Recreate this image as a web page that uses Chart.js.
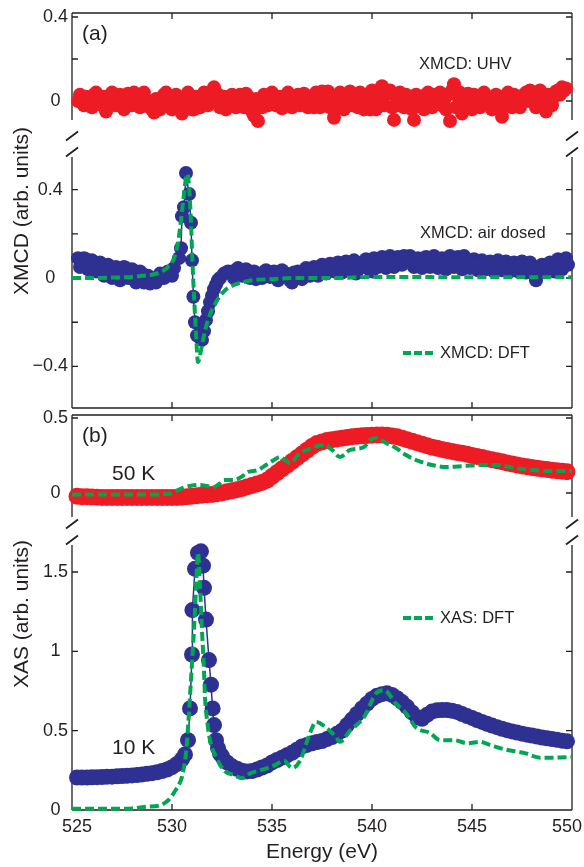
<!DOCTYPE html>
<html>
<head>
<meta charset="utf-8">
<script src="https://cdn.jsdelivr.net/npm/chart.js@4.4.0/dist/chart.umd.min.js"></script>
<style>
  html, body { margin: 0; padding: 0; background: #fff; }
  #wrap { position: relative; width: 584px; height: 867px; overflow: hidden; }
  #wrap canvas { position: absolute; left: 0; top: 0; }
</style>
</head>
<body>
<div id="wrap">
  <canvas id="aTop" width="584" height="867"></canvas>
  <canvas id="aBottom" width="584" height="867"></canvas>
  <canvas id="bTop" width="584" height="867"></canvas>
  <canvas id="bBottom" width="584" height="867"></canvas>
</div>
<script>
/* ====== DATA ====== */

const energyTicks = [525, 530, 535, 540, 545, 550];

// (a) XMCD in UHV (red dots), two interleaved scans
const uhvEnergy = [
  525.3, 525.5, 525.7, 525.9, 526.1, 526.3, 526.5, 526.7, 526.9, 527.1,
  527.3, 527.5, 527.7, 527.9, 528.1, 528.3, 528.5, 528.7, 528.9, 529.1,
  529.3, 529.5, 529.7, 529.9, 530.1, 530.3, 530.5, 530.7, 530.9, 531.1,
  531.3, 531.5, 531.7, 531.9, 532.1, 532.3, 532.5, 532.7, 532.9, 533.1,
  533.3, 533.5, 533.7, 533.9, 534.1, 534.3, 534.5, 534.7, 534.9, 535.1,
  535.3, 535.5, 535.7, 535.9, 536.1, 536.3, 536.5, 536.7, 536.9, 537.1,
  537.3, 537.5, 537.7, 537.9, 538.1, 538.3, 538.5, 538.7, 538.9, 539.1,
  539.3, 539.5, 539.7, 539.9, 540.1, 540.3, 540.5, 540.7, 540.9, 541.1,
  541.3, 541.5, 541.7, 541.9, 542.1, 542.3, 542.5, 542.7, 542.9, 543.1,
  543.3, 543.5, 543.7, 543.9, 544.1, 544.3, 544.5, 544.7, 544.9, 545.1,
  545.3, 545.5, 545.7, 545.9, 546.1, 546.3, 546.5, 546.7, 546.9, 547.1,
  547.3, 547.5, 547.7, 547.9, 548.1, 548.3, 548.5, 548.7, 548.9, 549.1,
  549.3, 549.5, 549.7
];
const uhvXmcd = [
  0.0, 0.01, 0.02, 0.0, 0.03, 0.01, -0.02, -0.05, 0.0, 0.03,
  0.0, -0.02, 0.01, 0.02, 0.04, 0.02, 0.0, -0.02, -0.03, -0.055,
  -0.02, 0.01, 0.04, 0.02, 0.0, -0.02, -0.06, -0.03, -0.01, -0.04,
  -0.01, 0.01, 0.0, 0.03, 0.065, 0.03, -0.02, -0.04, 0.0, 0.02,
  0.0, 0.02, 0.035, -0.02, -0.07, -0.095, -0.03, 0.01, 0.02, 0.0,
  -0.02, -0.035, -0.01, 0.02, 0.0, 0.03, 0.01, -0.01, 0.02, -0.03,
  0.01, 0.045, 0.02, -0.03, -0.08, -0.02, 0.02, 0.01, 0.045, 0.0,
  -0.03, 0.0, 0.03, -0.04, -0.14, 0.0, 0.07, 0.03, 0.05, -0.09,
  -0.02, 0.01, 0.03, 0.0, -0.09, -0.02, 0.02, 0.03, 0.0, 0.03,
  0.01, -0.02, -0.04, -0.095, 0.08, 0.02, -0.06, -0.02, 0.01, 0.03,
  0.0, 0.03, 0.0, -0.02, 0.02, -0.03, -0.075, -0.02, 0.01, 0.03,
  0.0, 0.02, 0.04, 0.05, 0.01, 0.03, -0.02, -0.05, 0.0, 0.02,
  0.05, 0.065, 0.06
];
const uhvEnergyB = [
  525.4, 525.6, 525.8, 526.0, 526.2, 526.4, 526.6, 526.8, 527.0, 527.2,
  527.4, 527.6, 527.8, 528.0, 528.2, 528.4, 528.6, 528.8, 529.0, 529.2,
  529.4, 529.6, 529.8, 530.0, 530.2, 530.4, 530.6, 530.8, 531.0, 531.2,
  531.4, 531.6, 531.8, 532.0, 532.2, 532.4, 532.6, 532.8, 533.0, 533.2,
  533.4, 533.6, 533.8, 534.0, 534.2, 534.4, 534.6, 534.8, 535.0, 535.2,
  535.4, 535.6, 535.8, 536.0, 536.2, 536.4, 536.6, 536.8, 537.0, 537.2,
  537.4, 537.6, 537.8, 538.0, 538.2, 538.4, 538.6, 538.8, 539.0, 539.2,
  539.4, 539.6, 539.8, 540.0, 540.2, 540.4, 540.6, 540.8, 541.0, 541.2,
  541.4, 541.6, 541.8, 542.0, 542.2, 542.4, 542.6, 542.8, 543.0, 543.2,
  543.4, 543.6, 543.8, 544.0, 544.2, 544.4, 544.6, 544.8, 545.0, 545.2,
  545.4, 545.6, 545.8, 546.0, 546.2, 546.4, 546.6, 546.8, 547.0, 547.2,
  547.4, 547.6, 547.8, 548.0, 548.2, 548.4, 548.6, 548.8, 549.0, 549.2,
  549.4, 549.6
];
const uhvXmcdB = [
  0.03, -0.02, 0.0, -0.03, 0.04, -0.01, 0.02, -0.03, 0.04, -0.02,
  0.03, -0.04, 0.035, -0.02, 0.01, -0.03, 0.04, 0.0, -0.04, 0.01,
  -0.04, 0.03, 0.0, -0.04, 0.03, 0.01, -0.02, 0.04, -0.04, 0.02,
  -0.03, 0.04, -0.02, 0.01, 0.04, -0.03, 0.02, -0.01, 0.03, -0.03,
  0.03, -0.03, 0.02, -0.05, 0.01, -0.03, 0.03, -0.02, 0.04, -0.02,
  0.02, -0.01, 0.04, -0.03, 0.02, -0.02, 0.035, -0.03, 0.01, 0.04,
  -0.03, 0.02, 0.045, 0.0, -0.03, 0.04, -0.04, 0.03, -0.02, 0.03,
  0.04, -0.04, 0.01, 0.05, -0.04, 0.03, -0.02, 0.04, -0.03, 0.02,
  0.04, -0.03, 0.02, -0.04, 0.03, 0.0, -0.04, 0.04, -0.03, 0.02,
  0.04, 0.0, 0.03, 0.05, -0.03, 0.04, 0.0, 0.035, -0.04, 0.02,
  -0.03, 0.04, 0.01, -0.04, 0.03, -0.02, 0.02, 0.04, -0.03, 0.01,
  -0.03, 0.03, 0.0, 0.04, -0.03, 0.05, -0.01, 0.03, -0.02, 0.045,
  0.03, 0.05
];

// (a) XMCD air dosed (blue dots joined by a thin line)
const airEnergy = [
  525.3, 525.5, 525.7, 525.9, 526.1, 526.3, 526.5, 526.7, 526.9, 527.1,
  527.3, 527.5, 527.7, 527.9, 528.1, 528.3, 528.5, 528.7, 528.9, 529.1,
  529.3, 529.5, 529.7, 529.9, 530.1,
  530.35, 530.45, 530.5, 530.6, 530.7, 530.85, 530.95, 531.0, 531.07, 531.15,
  531.25, 531.4, 531.5, 531.6, 531.7, 531.8, 531.9, 532.0, 532.1, 532.2,
  532.3, 532.4, 532.6, 532.8,
  533.0, 533.2, 533.4, 533.6, 533.8, 534.0, 534.2, 534.4, 534.6, 534.8,
  535.0, 535.2, 535.4, 535.6, 535.8, 536.0, 536.2, 536.4, 536.6, 536.8,
  537.0, 537.2, 537.4, 537.6, 537.8, 538.0, 538.2, 538.4, 538.6, 538.8,
  539.0, 539.2, 539.4, 539.6, 539.8, 540.0, 540.2, 540.4, 540.6, 540.8,
  541.0, 541.2, 541.4, 541.6, 541.8, 542.0, 542.2, 542.4, 542.6, 542.8,
  543.0, 543.2, 543.4, 543.6, 543.8, 544.0, 544.2, 544.4, 544.6, 544.8,
  545.0, 545.2, 545.4, 545.6, 545.8, 546.0, 546.2, 546.4, 546.6, 546.8,
  547.0, 547.2, 547.4, 547.6, 547.8, 548.0, 548.2, 548.4, 548.6, 548.8,
  549.0, 549.2, 549.4, 549.6, 549.8
];
const airXmcd = [
  0.09, 0.075, 0.085, 0.06, 0.07, 0.045, 0.06, 0.03, 0.05, 0.02,
  0.04, 0.01, 0.045, 0.015, 0.03, 0.0, 0.02, -0.01, -0.025, -0.015,
  -0.005, 0.005, 0.015, 0.025, 0.045,
  0.09, 0.135, 0.28, 0.32, 0.475, 0.38, 0.25, 0.08, -0.085, -0.2,
  -0.26, -0.27, -0.28, -0.24, -0.19, -0.15, -0.11, -0.08, -0.05, -0.03,
  -0.01, 0.0, 0.02, 0.03,
  0.03, 0.035, 0.03, 0.025, 0.02, 0.01, -0.005, 0.015, 0.025, 0.02,
  0.015, 0.01, 0.02, 0.005, 0.0, -0.02, 0.0, 0.02, 0.025, 0.03,
  0.035, 0.03, 0.04, 0.045, 0.05, 0.04, 0.035, 0.045, 0.055, 0.05,
  0.05, 0.02, 0.045, 0.06, 0.05, 0.03, 0.055, 0.07, 0.08, 0.07,
  0.065, 0.08, 0.09, 0.1, 0.085, 0.07, 0.065, 0.075, 0.09, 0.08,
  0.07, 0.075, 0.07, 0.065, 0.08, 0.07, 0.075, 0.085, 0.1, 0.08,
  0.065, 0.06, 0.065, 0.07, 0.055, 0.05, 0.06, 0.055, 0.05, 0.055,
  0.05, 0.045, 0.055, 0.05, 0.045, 0.03, -0.01, 0.025, 0.045, 0.04,
  0.05, 0.055, 0.07, 0.08, 0.06
];
// second air-dosed scan (dots only)
const airEnergyB = [
  525.4, 525.6, 525.8, 526.0, 526.2, 526.4, 526.6, 526.8, 527.0, 527.2,
  527.4, 527.6, 527.8, 528.0, 528.2, 528.4, 528.6, 528.8, 529.0, 529.2,
  529.4, 529.6, 529.8, 530.0,
  533.1, 533.3, 533.5, 533.7, 533.9, 534.1, 534.3, 534.5, 534.7, 534.9,
  535.1, 535.3, 535.5, 535.7, 535.9, 536.1, 536.3, 536.5, 536.7, 536.9,
  537.1, 537.3, 537.5, 537.7, 537.9, 538.1, 538.3, 538.5, 538.7, 538.9,
  539.1, 539.3, 539.5, 539.7, 539.9, 540.1, 540.3, 540.5, 540.7, 540.9,
  541.1, 541.3, 541.5, 541.7, 541.9, 542.1, 542.3, 542.5, 542.7, 542.9,
  543.1, 543.3, 543.5, 543.7, 543.9, 544.1, 544.3, 544.5, 544.7, 544.9,
  545.1, 545.3, 545.5, 545.7, 545.9, 546.1, 546.3, 546.5, 546.7, 546.9,
  547.1, 547.3, 547.5, 547.7, 547.9, 548.1, 548.3, 548.5, 548.7, 548.9,
  549.1, 549.3, 549.5, 549.7
];
const airXmcdB = [
  0.05, 0.09, 0.04, 0.08, 0.03, 0.07, 0.01, 0.06, 0.0, 0.05,
  -0.01, 0.05, 0.0, 0.04, -0.02, 0.03, -0.02, 0.01, 0.0, -0.02,
  0.02, 0.0, 0.03, 0.01,
  0.0, 0.045, 0.01, 0.04, 0.0, 0.03, 0.02, 0.0, 0.035, 0.005,
  0.03, -0.01, 0.035, 0.02, -0.01, 0.025, 0.03, -0.005, 0.045, 0.01,
  0.05, 0.01, 0.06, 0.02, 0.065, 0.03, 0.07, 0.025, 0.075, 0.035,
  0.08, 0.04, 0.07, 0.085, 0.035, 0.09, 0.05, 0.095, 0.045, 0.1,
  0.05, 0.095, 0.06, 0.085, 0.1, 0.05, 0.09, 0.045, 0.095, 0.05,
  0.1, 0.045, 0.09, 0.04, 0.1, 0.05, 0.095, 0.04, 0.07, 0.045,
  0.085, 0.035, 0.08, 0.04, 0.075, 0.03, 0.08, 0.035, 0.075, 0.03,
  0.07, 0.03, 0.075, 0.025, 0.07, 0.05, 0.02, 0.06, 0.03, 0.07,
  0.03, 0.085, 0.04, 0.09
];

// (a) XMCD from DFT (green dashed)
const xmcdDftEnergy = [525, 526, 527, 528, 528.5, 529, 529.5, 529.8, 530.1, 530.3,
  530.45, 530.6, 530.75, 530.85, 530.95, 531.02, 531.1, 531.2, 531.3, 531.4,
  531.55, 531.8, 532.2, 532.6, 533, 533.5, 534, 535, 536, 538,
  540, 542, 544, 546, 548, 550];
const xmcdDft = [0, 0, 0.002, 0.005, 0.01, 0.015, 0.03, 0.05, 0.09, 0.16,
  0.26, 0.38, 0.47, 0.42, 0.25, 0.08, -0.08, -0.25, -0.38, -0.35,
  -0.28, -0.19, -0.11, -0.06, -0.035, -0.02, -0.01, -0.005, 0, 0,
  0.005, 0.005, 0.003, 0.003, 0.003, 0.003];

// (b) XAS at 50 K (red)
const xas50Energy = [
  525.25, 525.5, 525.75, 526, 526.25, 526.5, 526.75, 527, 527.25, 527.5,
  527.75, 528, 528.25, 528.5, 528.75, 529, 529.25, 529.5, 529.75, 530,
  530.25, 530.5, 530.75, 531, 531.25, 531.5, 531.75, 532, 532.25, 532.5,
  532.75, 533, 533.25, 533.5, 533.75, 534, 534.25, 534.5, 534.75, 535,
  535.25, 535.5, 535.75, 536, 536.25, 536.5, 536.75, 537, 537.25, 537.5,
  537.75, 538, 538.25, 538.5, 538.75, 539, 539.25, 539.5, 539.75, 540,
  540.25, 540.5, 540.75, 541, 541.25, 541.5, 541.75, 542, 542.25, 542.5,
  542.75, 543, 543.25, 543.5, 543.75, 544, 544.25, 544.5, 544.75, 545,
  545.25, 545.5, 545.75, 546, 546.25, 546.5, 546.75, 547, 547.25, 547.5,
  547.75, 548, 548.25, 548.5, 548.75, 549, 549.25, 549.5, 549.75
];
const xas50 = [
  -0.022, -0.025, -0.025, -0.027, -0.028, -0.03, -0.03, -0.03, -0.03, -0.03,
  -0.03, -0.03, -0.03, -0.03, -0.03, -0.03, -0.03, -0.03, -0.03, -0.03,
  -0.03, -0.028, -0.025, -0.022, -0.018, -0.015, -0.012, -0.01, -0.005, 0.0,
  0.008, 0.015, 0.022, 0.03, 0.04, 0.05, 0.06, 0.07, 0.085, 0.11,
  0.135, 0.16, 0.185, 0.21, 0.235, 0.26, 0.285, 0.31, 0.33, 0.34,
  0.35, 0.355, 0.36, 0.365, 0.37, 0.375, 0.378, 0.381, 0.384, 0.385,
  0.387, 0.387, 0.385, 0.38, 0.375, 0.365, 0.355, 0.345, 0.335, 0.325,
  0.315, 0.305, 0.298, 0.29, 0.283, 0.277, 0.27, 0.265, 0.258, 0.25,
  0.243, 0.236, 0.229, 0.222, 0.215, 0.208, 0.2, 0.193, 0.187, 0.18,
  0.175, 0.17, 0.165, 0.16, 0.156, 0.152, 0.148, 0.145, 0.142
];

// (b) XAS from DFT, upper part (green dashed)
const xas50DftEnergy = [525, 526, 527, 528, 529, 529.9, 530.3, 530.7, 531.0, 531.4,
  531.8, 532.1, 532.4, 532.6, 533.1, 533.5, 533.8, 534.3, 534.7, 535.1,
  535.4, 535.7, 535.9, 536.4, 536.8, 537.1, 537.6, 538.0, 538.4, 538.9,
  539.6, 539.9, 540.2, 540.7, 541.2, 541.7, 542.2, 543.0, 543.7, 544.6,
  545.4, 546.2, 547.1, 548.1, 549.1, 550];
const xas50Dft = [-0.01, -0.01, -0.01, -0.01, -0.01, -0.005, 0.02, 0.04, 0.05, 0.053,
  0.045, 0.04, 0.065, 0.087, 0.087, 0.11, 0.14, 0.153, 0.187, 0.22,
  0.24, 0.215, 0.2, 0.267, 0.29, 0.307, 0.32, 0.287, 0.24, 0.287,
  0.307, 0.353, 0.367, 0.333, 0.3, 0.253, 0.22, 0.187, 0.173, 0.18,
  0.187, 0.187, 0.167, 0.153, 0.147, 0.147];

// (b) XAS at 10 K (blue)
const xas10Energy = [
  525.25, 525.5, 525.75, 526, 526.25, 526.5, 526.75, 527, 527.25, 527.5,
  527.75, 528, 528.25, 528.5, 528.75, 529, 529.25, 529.5, 529.75, 530,
  530.25, 530.5,
  530.65, 530.8, 530.9, 531.0, 531.02, 531.15, 531.3, 531.45, 531.55, 531.6,
  531.7, 531.85, 531.95, 532.03, 532.1, 532.2, 532.3, 532.4,
  532.5, 532.75, 533, 533.25, 533.5, 533.75, 534, 534.25, 534.5, 534.75,
  535, 535.25, 535.5, 535.75, 536, 536.25, 536.5, 536.75, 537, 537.25,
  537.5, 537.75, 538, 538.25, 538.5, 538.75, 539, 539.25, 539.5, 539.75,
  540, 540.25, 540.5, 540.75, 541, 541.25, 541.5, 541.75, 542, 542.25,
  542.5, 542.75, 543, 543.25, 543.5, 543.75, 544, 544.25, 544.5, 544.75,
  545, 545.25, 545.5, 545.75, 546, 546.25, 546.5, 546.75, 547, 547.25,
  547.5, 547.75, 548, 548.25, 548.5, 548.75, 549, 549.25, 549.5, 549.75
];
const xas10 = [
  0.205, 0.205, 0.205, 0.206, 0.207, 0.208, 0.21, 0.21, 0.212, 0.214,
  0.216, 0.218, 0.22, 0.224, 0.228, 0.232, 0.238, 0.245, 0.255, 0.27,
  0.29, 0.32,
  0.35, 0.44, 0.64, 0.98, 1.26, 1.52, 1.62, 1.63, 1.54, 1.40,
  1.20, 0.945, 0.79, 0.64, 0.535, 0.44, 0.39, 0.355,
  0.34, 0.3, 0.275, 0.26, 0.248, 0.243, 0.245, 0.255, 0.268, 0.28,
  0.3, 0.315, 0.33, 0.345, 0.36, 0.38, 0.4, 0.41, 0.42, 0.428,
  0.435, 0.447, 0.46, 0.48, 0.5, 0.535, 0.57, 0.605, 0.64, 0.67,
  0.7, 0.72, 0.73, 0.735, 0.725, 0.705, 0.68, 0.65, 0.615, 0.585,
  0.575, 0.6, 0.62, 0.628, 0.63, 0.63, 0.625, 0.618, 0.605, 0.592,
  0.58, 0.567, 0.555, 0.543, 0.532, 0.522, 0.512, 0.503, 0.495, 0.488,
  0.481, 0.475, 0.469, 0.463, 0.457, 0.452, 0.447, 0.442, 0.437, 0.433
];

// (b) XAS from DFT, lower part (green dashed)
const xas10DftEnergy = [525, 526, 527, 528, 528.7, 529.4, 529.8, 530.05, 530.3, 530.5,
  530.7, 530.8, 530.95, 531.05, 531.15, 531.22, 531.3, 531.4, 531.5, 531.6,
  531.65, 531.75, 531.9, 532.2, 532.6, 533.1, 533.5, 533.9, 534.4, 535.1,
  535.6, 536.0, 536.4, 536.9, 537.2, 537.7, 538.2, 538.4, 538.9, 539.6,
  540.2, 540.6, 541.2, 541.7, 542.2, 542.9, 543.4, 544.1, 544.8, 545.4,
  545.9, 546.7, 547.6, 548.4, 549.2, 550];
const xas10Dft = [0.008, 0.008, 0.008, 0.01, 0.02, 0.03, 0.06, 0.1, 0.15, 0.21,
  0.36, 0.52, 0.82, 1.03, 1.26, 1.45, 1.62, 1.41, 1.13, 0.88,
  0.71, 0.57, 0.44, 0.335, 0.25, 0.22, 0.2, 0.23, 0.25, 0.28,
  0.31, 0.265, 0.31, 0.485, 0.555, 0.52, 0.46, 0.43, 0.5, 0.585,
  0.735, 0.755, 0.67, 0.61, 0.52, 0.485, 0.44, 0.44, 0.42, 0.43,
  0.41, 0.38, 0.36, 0.33, 0.33, 0.335];

/* ====== STYLE ====== */

const INK = '#231f20';
const RED = '#ed1c24';
const BLUE = '#2e3192';
const GREEN = '#00a651';
const FONT = '"Liberation Sans", Arial, Helvetica, sans-serif';

function pts(xs, ys) {
  return xs.map((x, i) => ({ x: x, y: ys[i] }));
}

function dots(xs, ys, color, r, line) {
  return {
    data: pts(xs, ys),
    showLine: line,
    borderColor: color,
    borderWidth: line ? 1.5 : 0,
    backgroundColor: color,
    pointBackgroundColor: color,
    pointBorderWidth: 0,
    pointRadius: r,
    pointHoverRadius: r,
    clip: false,
    order: 1
  };
}

function dft(xs, ys) {
  return {
    data: pts(xs, ys),
    showLine: true,
    borderColor: GREEN,
    borderWidth: 4,
    borderDash: [9, 4],
    pointRadius: 0,
    pointHoverRadius: 0,
    cubicInterpolationMode: 'monotone',
    fill: false,
    clip: false,
    order: 0
  };
}

function fmt(v, every) {
  const r = Math.round(v * 1000) / 1000;
  if (Math.abs(r / every - Math.round(r / every)) > 1e-6) return '';
  if (r === 0) return '0';
  return (r < 0 ? '\u2212' : '') + String(Math.abs(r));
}

/* ====== DRAW HELPERS ====== */

function label(ctx, s, x, y, size) {
  ctx.save();
  ctx.font = size + 'px ' + FONT;
  ctx.fillStyle = INK;
  ctx.textAlign = 'left';
  ctx.textBaseline = 'middle';
  ctx.fillText(s, x, y);
  ctx.restore();
}

function yTitle(ctx, s, x, y) {
  ctx.save();
  ctx.translate(x, y);
  ctx.rotate(-Math.PI / 2);
  ctx.font = '21px ' + FONT;
  ctx.fillStyle = INK;
  ctx.textAlign = 'center';
  ctx.textBaseline = 'middle';
  ctx.fillText(s, 0, 0);
  ctx.restore();
}

function legendDash(ctx, x1, x2, y) {
  ctx.save();
  ctx.strokeStyle = GREEN;
  ctx.lineWidth = 4;
  ctx.setLineDash([8, 3]);
  ctx.beginPath();
  ctx.moveTo(x1, y);
  ctx.lineTo(x2, y);
  ctx.stroke();
  ctx.restore();
}

// the "//" marks of the broken axis, just above this segment
function breakMarks(ctx, a) {
  ctx.save();
  ctx.strokeStyle = INK;
  ctx.lineWidth = 1.8;
  ctx.beginPath();
  [a.left, a.right].forEach(x => {
    [a.top - 21, a.top - 5].forEach(y => {
      ctx.moveTo(x - 6, y + 4.5);
      ctx.lineTo(x + 6, y - 4.5);
    });
  });
  ctx.stroke();
  ctx.restore();
}

function xTickLabels(chart) {
  const ctx = chart.ctx;
  const x = chart.scales.x;
  ctx.save();
  ctx.font = '18px ' + FONT;
  ctx.fillStyle = INK;
  ctx.textAlign = 'center';
  ctx.textBaseline = 'middle';
  energyTicks.forEach(v => {
    const s = String(v);
    const w = ctx.measureText(s).width;
    let px = x.getPixelForValue(v);
    px = Math.max(62 + w / 2, Math.min(582 - w / 2, px));
    ctx.fillText(s, px, chart.chartArea.bottom + 17);
  });
  ctx.restore();
}

// box lines and inward ticks
function frame(withTop, withBottom) {
  return {
    id: 'frame',
    beforeDatasetsDraw(chart) {
      const ctx = chart.ctx;
      const a = chart.chartArea;
      const xs = chart.scales.x;
      const ys = chart.scales.y;
      const t = 6;
      ctx.save();
      ctx.strokeStyle = INK;
      ctx.lineWidth = 1.3;
      ctx.beginPath();
      ctx.moveTo(a.left, a.top); ctx.lineTo(a.left, a.bottom);
      ctx.moveTo(a.right, a.top); ctx.lineTo(a.right, a.bottom);
      if (withTop) { ctx.moveTo(a.left, a.top); ctx.lineTo(a.right, a.top); }
      if (withBottom) { ctx.moveTo(a.left, a.bottom); ctx.lineTo(a.right, a.bottom); }
      energyTicks.forEach(v => {
        const px = xs.getPixelForValue(v);
        if (withTop) { ctx.moveTo(px, a.top); ctx.lineTo(px, a.top + t); }
        if (withBottom) { ctx.moveTo(px, a.bottom); ctx.lineTo(px, a.bottom - t); }
      });
      ys.ticks.forEach(tk => {
        const py = ys.getPixelForValue(tk.value);
        ctx.moveTo(a.left, py); ctx.lineTo(a.left + t, py);
        ctx.moveTo(a.right, py); ctx.lineTo(a.right - t, py);
      });
      ctx.stroke();
      ctx.restore();
    }
  };
}

/* ====== PANELS ====== */

function makePanel(id, cfg) {
  return new Chart(document.getElementById(id), {
    type: 'scatter',
    data: { datasets: cfg.datasets },
    options: {
      responsive: false,
      animation: false,
      devicePixelRatio: 1,
      events: [],
      layout: { padding: { top: cfg.padTop, bottom: cfg.padBottom, left: 0, right: 12 } },
      plugins: { legend: { display: false }, tooltip: { enabled: false } },
      scales: {
        x: {
          type: 'linear',
          min: 525,
          max: 550,
          display: cfg.showX,
          ticks: { display: false, stepSize: 5 },
          grid: { display: false, drawTicks: false },
          border: { display: false },
          title: {
            display: cfg.showX,
            text: 'Energy (eV)',
            color: INK,
            font: { family: FONT, size: 21 },
            padding: { top: 0, bottom: 2 }
          },
          afterFit: s => { s.height = cfg.showX ? 57 : 0; s.paddingLeft = 0; s.paddingRight = 0; }
        },
        y: {
          min: cfg.yMin,
          max: cfg.yMax,
          ticks: {
            stepSize: cfg.step,
            includeBounds: false,
            padding: 4,
            crossAlign: 'center',
            color: INK,
            font: { family: FONT, size: 18 },
            callback: v => fmt(v, cfg.labelEvery)
          },
          grid: { display: false, drawTicks: false },
          border: { display: false },
          afterFit: s => { s.width = 72; s.paddingTop = 0; s.paddingBottom = 0; }
        }
      }
    },
    plugins: [frame(cfg.top, cfg.bottom), { id: 'decor', afterDraw: cfg.decor }]
  });
}

// (a) upper segment: UHV
makePanel('aTop', {
  padTop: 13, padBottom: 747, showX: false,
  yMin: -0.0905, yMax: 0.419, step: 0.2, labelEvery: 0.4,
  top: true, bottom: false,
  datasets: [
    dots(uhvEnergy, uhvXmcd, RED, 7, false),
    dots(uhvEnergyB, uhvXmcdB, RED, 7, false)
  ],
  decor: chart => {
    label(chart.ctx, '(a)', 82, 34, 21);
    label(chart.ctx, 'XMCD: UHV', 419, 64, 16.5);
  }
});

// (a) lower segment: air dosed + DFT
makePanel('aBottom', {
  padTop: 157, padBottom: 459, showX: false,
  yMin: -0.588, yMax: 0.5475, step: 0.2, labelEvery: 0.4,
  top: false, bottom: true,
  datasets: [
    dft(xmcdDftEnergy, xmcdDft),
    dots(airEnergy, airXmcd, BLUE, 7, true),
    dots(airEnergyB, airXmcdB, BLUE, 7, false)
  ],
  decor: chart => {
    const ctx = chart.ctx;
    breakMarks(ctx, chart.chartArea);
    label(ctx, 'XMCD: air dosed', 420, 233, 16.5);
    legendDash(ctx, 403, 433, 353);
    label(ctx, 'XMCD: DFT', 440, 353, 16.5);
    yTitle(ctx, 'XMCD (arb. units)', 22, 211);
  }
});

// (b) upper segment: 50 K
makePanel('bTop', {
  padTop: 415, padBottom: 350, showX: false,
  yMin: -0.16, yMax: 0.52, step: 0.5, labelEvery: 0.5,
  top: true, bottom: false,
  datasets: [dft(xas50DftEnergy, xas50Dft), dots(xas50Energy, xas50, RED, 8.5, false)],
  decor: chart => {
    label(chart.ctx, '(b)', 82, 436, 21);
    label(chart.ctx, '50 K', 112, 474, 21);
  }
});

// (b) lower segment: 10 K
makePanel('bBottom', {
  padTop: 545, padBottom: 0, showX: true,
  yMin: 0, yMax: 1.67, step: 0.5, labelEvery: 0.5,
  top: false, bottom: true,
  datasets: [dft(xas10DftEnergy, xas10Dft), dots(xas10Energy, xas10, BLUE, 8, true)],
  decor: chart => {
    const ctx = chart.ctx;
    breakMarks(ctx, chart.chartArea);
    label(ctx, '10 K', 112, 748, 21);
    legendDash(ctx, 403, 433, 618);
    label(ctx, 'XAS: DFT', 440, 618, 16.5);
    yTitle(ctx, 'XAS (arb. units)', 22, 614);
    xTickLabels(chart);
  }
});
</script>
</body>
</html>
